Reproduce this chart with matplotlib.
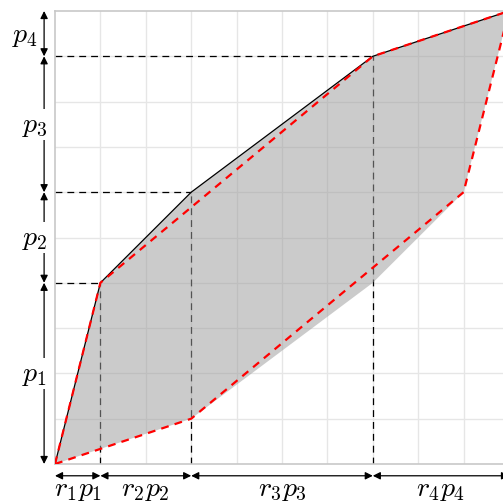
import numpy as np
import matplotlib
matplotlib.use('Agg')
import matplotlib.pyplot as plt

plt.rcParams['mathtext.fontset'] = 'cm'

# class shares p_i and widths r_i * p_i
p = [0.4, 0.2, 0.3, 0.1]
rp = [0.1, 0.2, 0.4, 0.3]
p_labels = [r'$p_1$', r'$p_2$', r'$p_3$', r'$p_4$']
rp_labels = [r'$r_1p_1$', r'$r_2p_2$', r'$r_3p_3$', r'$r_4p_4$']

# merged (red dashed) curves
red_upper_x = [0.0, 0.1, 0.7, 1.0]
red_upper_y = [0.0, 0.4, 0.9, 1.0]
red_lower_x = [0.0, 0.3, 0.9, 1.0]
red_lower_y = [0.0, 0.1, 0.6, 1.0]

ux = np.concatenate([[0], np.cumsum(rp)])
uy = np.concatenate([[0], np.cumsum(p)])
lx = np.concatenate([[0], np.cumsum(rp[::-1])])
ly = np.concatenate([[0], np.cumsum(p[::-1])])

fig = plt.figure(figsize=(5.03, 5.02), dpi=100)
ax = fig.add_axes([55 / 503, 37 / 502, 454 / 503, 453 / 502])
ax.set_xlim(0, 1)
ax.set_ylim(0, 1)

# grid under everything
for t in np.arange(0.1, 1.0, 0.1):
    ax.axvline(t, color='#e6e6e6', lw=1, zorder=0.5)
    ax.axhline(t, color='#e6e6e6', lw=1, zorder=0.5)

for x, y in zip(ux[1:-1], uy[1:-1]):
    ax.plot([0, x], [y, y], color='black', lw=0.9, dashes=(5.5, 4), zorder=1)
    ax.plot([x, x], [0, y], color='black', lw=0.9, dashes=(5.5, 4), zorder=1)

# semi-transparent fill over grid and guides
poly_x = np.concatenate([ux, lx[::-1]])
poly_y = np.concatenate([uy, ly[::-1]])
ax.fill(poly_x, poly_y, color=(0.62, 0.62, 0.62), alpha=0.53, lw=0, zorder=2)

ax.plot(ux, uy, color='black', lw=0.9, zorder=3)

ax.plot(red_upper_x, red_upper_y, color='red', lw=1.6, dashes=(3.5, 2.8), zorder=4)
ax.plot(red_lower_x, red_lower_y, color='red', lw=1.6, dashes=(3.5, 2.8), zorder=4)

ax.set_xticks([])
ax.set_yticks([])
for s in ax.spines.values():
    s.set_color('#c8c8c8')
    s.set_linewidth(1.2)

arrow_kw = dict(arrowstyle='<|-|>', color='black', lw=0.9, mutation_scale=11,
                shrinkA=0, shrinkB=0)

# vertical arrows with p labels
ax_x = -0.024
for i in range(4):
    ax.annotate('', xy=(ax_x, uy[i]), xytext=(ax_x, uy[i + 1]),
                arrowprops=arrow_kw, annotation_clip=False)
    mid = (uy[i] + uy[i + 1]) / 2
    if p[i] > 0.15:
        ax.text(-0.044, mid, p_labels[i], fontsize=20, ha='center', va='center',
                bbox=dict(facecolor='white', edgecolor='none', pad=1), clip_on=False, zorder=5)
    else:
        ax.text(-0.066, mid, p_labels[i], fontsize=20, ha='center', va='center',
                clip_on=False)

# horizontal arrows with r p labels
ar_y = -0.026
for i in range(4):
    ax.annotate('', xy=(ux[i], ar_y), xytext=(ux[i + 1], ar_y),
                arrowprops=arrow_kw, annotation_clip=False)
    mid = (ux[i] + ux[i + 1]) / 2
    ax.text(mid, -0.052, rp_labels[i], fontsize=20, ha='center', va='center', clip_on=False)

fig.savefig('out.png', dpi=100)
